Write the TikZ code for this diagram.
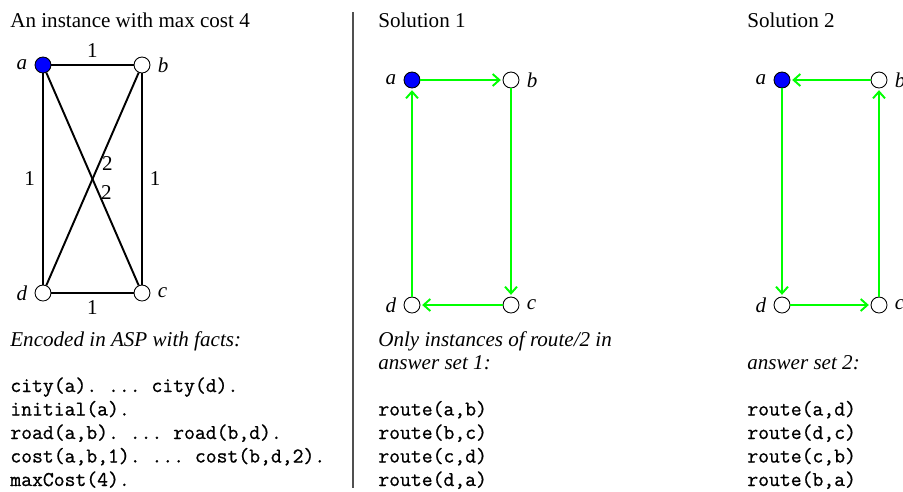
\documentclass[tikz,border=0pt,12pt]{standalone}
\usepackage{fontspec}
\setmainfont{Liberation Serif}
\setmonofont{Latin Modern Mono}[FakeBold=0.8]
\usetikzlibrary{arrows.meta, positioning}
\definecolor{cityblue}{HTML}{0000FF}
\definecolor{routegreen}{HTML}{00FF00}
\definecolor{rulegray}{HTML}{505050}

\begin{document}
\begin{tikzpicture}[
    x=0.02cm, y=-0.02cm,
    city/.style={circle, draw, fill=white, line width=0.5pt, minimum size=9.1pt, inner sep=0pt},
    start/.style={city, fill=cityblue},
    road/.style={line width=1.1pt},
    route/.style={routegreen, line width=1.1pt, shorten >=1pt, -{Straight Barb[length=3.8pt, width=6.8pt]}},
    txt/.style={anchor=base west, inner sep=0pt},
    fact/.style={txt, font=\ttfamily},
]
\clip (0,0) rectangle (903,491);

% Instance
\node[txt] (title) at (10,27) {An instance with max cost 4};
\node[start, label=left:\textit{a}] (a) at (43,65) {};
\node[city, label=right:\textit{b}] (b) at (142,65) {};
\node[city, label=right:\textit{c}] (c) at (142,293) {};
\node[city, label=left:\textit{d}] (d) at (43,293) {};

\draw[road] (a) -- node[above] {1} (b);
\draw[road] (a) -- node[left] {1} (d);
\draw[road] (b) -- node[right] {1} (c);
\draw[road] (d) -- node[below] {1} (c);
\draw[road] (b) -- node[pos=0.425, anchor=west, inner sep=1pt] {2} (d);
\draw[road] (a) -- node[pos=0.565, anchor=west, inner sep=1pt] {2} (c);

\node[txt, font=\itshape] (enc) at (10,346) {Encoded in ASP with facts:};
\node[fact] (f1) at (10,392) {city(a). ... city(d).};
\node[fact] (f2) at (10,415.5) {initial(a).};
\node[fact] (f3) at (10,439) {road(a,b). ... road(b,d).};
\node[fact] (f4) at (10,462.5) {cost(a,b,1). ... cost(b,d,2).};
\node[fact] (f5) at (10,486) {maxCost(4).};

% Separator
\draw[rulegray, line width=0.6pt] (353,12) -- (353,488);

% Solution 1
\node[txt] (sol1) at (378,27) {Solution 1};
\node[start, label=left:\textit{a}] (sa) at (412,80) {};
\node[city, label=right:\textit{b}] (sb) at (511,80) {};
\node[city, label=right:\textit{c}] (sc) at (511,305) {};
\node[city, label=left:\textit{d}] (sd) at (412,305) {};

\foreach \u/\v in {sa/sb, sb/sc, sc/sd, sd/sa} {
    \draw[route] (\u) -- (\v);
}

\node[txt, font=\itshape] (ans1a) at (378,346) {Only instances of route/2 in};
\node[txt, font=\itshape] (ans1b) at (378,369) {answer set 1:};
\node[fact] (r1) at (378,415.5) {route(a,b)};
\node[fact] (r2) at (378,439) {route(b,c)};
\node[fact] (r3) at (378,462.5) {route(c,d)};
\node[fact] (r4) at (378,486) {route(d,a)};

% Solution 2
\node[txt] (sol2) at (747,27) {Solution 2};
\node[start, label=left:\textit{a}] (ta) at (782,80) {};
\node[city, label=right:\textit{b}] (tb) at (879,80) {};
\node[city, label=right:\textit{c}] (tc) at (879,305) {};
\node[city, label=left:\textit{d}] (td) at (782,305) {};

\foreach \u/\v in {ta/td, td/tc, tc/tb, tb/ta} {
    \draw[route] (\u) -- (\v);
}

\node[txt, font=\itshape] (ans2) at (747,369) {answer set 2:};
\node[fact] (q1) at (747,415.5) {route(a,d)};
\node[fact] (q2) at (747,439) {route(d,c)};
\node[fact] (q3) at (747,462.5) {route(c,b)};
\node[fact] (q4) at (747,486) {route(b,a)};

\end{tikzpicture}
\end{document}
